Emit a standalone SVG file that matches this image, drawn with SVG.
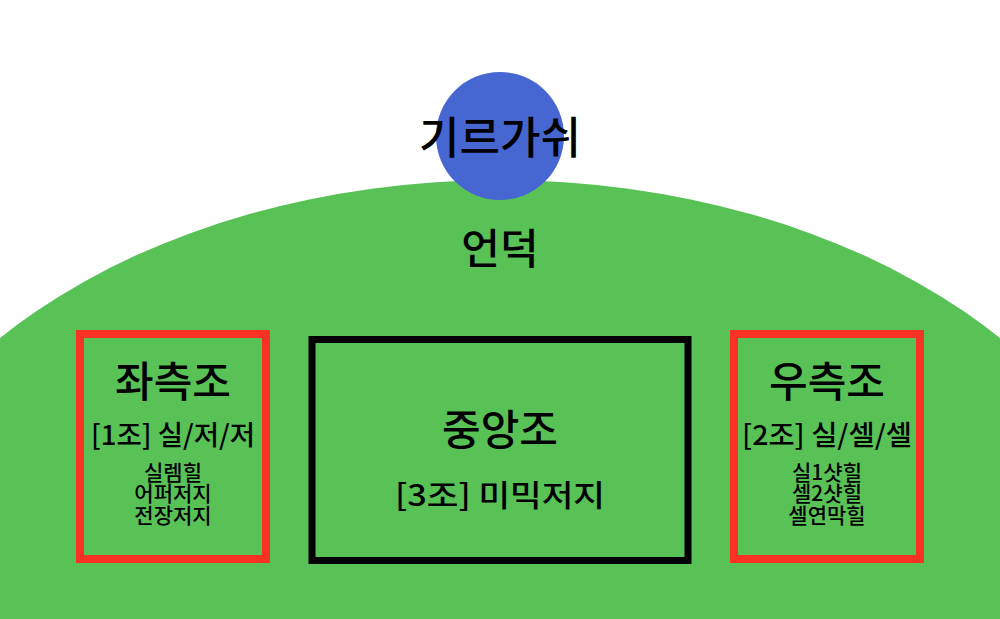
<svg xmlns="http://www.w3.org/2000/svg" width="1000" height="619" viewBox="0 0 1000 619">
<style>
text { font-family: "Noto Sans CJK KR", "Noto Sans", sans-serif; fill: #000; text-anchor: middle; }
.title { font-size: 42px; font-weight: 500; }
.sub { font-size: 27.5px; font-weight: 500; }
.small { font-size: 21px; font-weight: 500; }
.side { fill: none; stroke: #F93223; stroke-width: 8; }
.center { fill: none; stroke: #000; stroke-width: 7; }
</style>
<rect width="1000" height="619" fill="#ffffff"/>
<g id="hill">
<ellipse cx="500" cy="630" rx="657" ry="450" fill="#59C257"/>
<text x="500" y="264" class="title">언덕</text>
</g>
<g id="girgashi">
<circle cx="500" cy="136" r="64" fill="#4666D1"/>
<text x="500" y="154" class="title" style="font-size:44px">기르가쉬</text>
</g>
<g id="left">
<rect x="80" y="334" width="186" height="225" class="side"/>
<text x="173" y="397" class="title">좌측조</text>
<text x="173" y="445" class="sub">[1조] 실/저/저</text>
<text x="173" y="480" class="small">실렘힐</text>
<text x="173" y="501" class="small">어퍼저지</text>
<text x="173" y="523" class="small">전장저지</text>
</g>
<g id="center">
<rect x="312" y="339.5" width="376" height="221" class="center"/>
<text x="500" y="445" class="title">중앙조</text>
<text x="500" y="506" class="sub" style="font-size:30px" textLength="210" lengthAdjust="spacingAndGlyphs">[3조] 미믹저지</text>
</g>
<g id="right">
<rect x="734" y="334" width="186" height="225" class="side"/>
<text x="827" y="397" class="title">우측조</text>
<text x="827" y="445" class="sub" textLength="170" lengthAdjust="spacingAndGlyphs">[2조] 실/셀/셀</text>
<text x="827" y="480" class="small">실1샷힐</text>
<text x="827" y="501" class="small">셀2샷힐</text>
<text x="827" y="523" class="small">셀연막힐</text>
</g>
<g id="connectors"></g>
</svg>
